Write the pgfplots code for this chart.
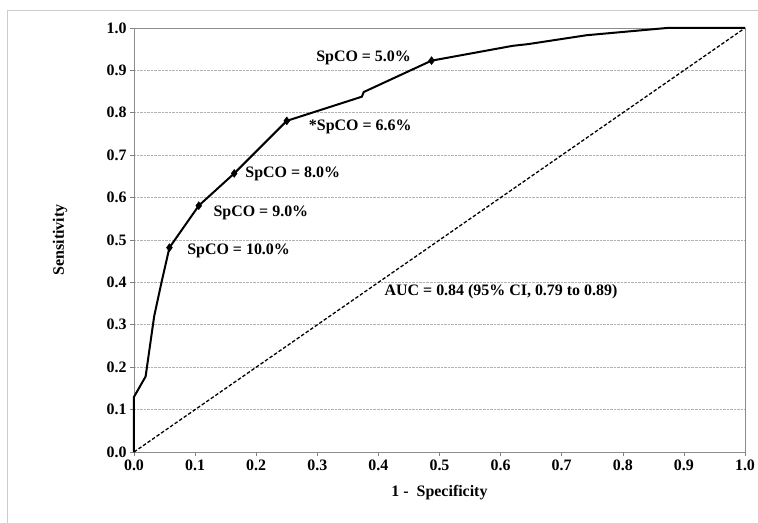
\documentclass[border=0pt]{standalone}
\usepackage{fontspec}
\setmainfont{Liberation Serif}
\usepackage{pgfplots}
\pgfplotsset{compat=1.18}
\begin{document}
\begin{tikzpicture}
\useasboundingbox (-134bp,-71bp) rectangle (624bp,452bp);
\draw[black!20, line width=0.8bp] (-127bp,-71bp) -- (-127bp,442bp) -- (624bp,442bp);
\begin{axis}[
  at={(0,0)}, anchor=south west,
  scale only axis, width=611bp, height=424bp,
  xmin=0, xmax=1, ymin=0, ymax=1,
  xtick={0,0.1,...,1.0}, ytick={0,0.1,...,1.0},
  /pgf/number format/.cd, fixed, fixed zerofill, precision=1, assume math mode=true, /pgfplots/.cd,
  tick label style={font=\bfseries\fontsize{16}{19}\selectfont},
  tick align=outside, major tick length=4bp,
  tick style={gray, line width=0.6bp},
  xtick pos=bottom, ytick pos=left,
  axis line style={gray!90, line width=0.8bp},
  ymajorgrids, grid style={densely dotted, gray!60, line width=0.6bp},
  clip=false,
  xlabel={1 -\ \ Specificity}, ylabel={Sensitivity},
  xlabel style={at={(axis description cs:0.5,0)}, anchor=center, yshift=-41bp, font=\bfseries\fontsize{16}{19}\selectfont},
  ylabel style={at={(axis description cs:0,0.5)}, anchor=center, yshift=74bp, font=\bfseries\fontsize{16}{19}\selectfont},
]
\addplot[black, dash pattern=on 3.5bp off 2bp, line width=1.3bp] coordinates {(0,0) (1,1)};
\addplot[black, line width=2bp, line join=round] coordinates {
(0,0) (0,0.13) (0.019,0.178) (0.033,0.32) (0.045,0.40) (0.058,0.482)
(0.106,0.581) (0.164,0.657) (0.250,0.781) (0.373,0.838) (0.376,0.849)
(0.487,0.923) (0.62,0.958) (0.645,0.962) (0.741,0.983) (0.872,1.0) (1.0,1.0)};
\addplot[only marks, mark=diamond*, mark size=4bp, black] coordinates {
(0.058,0.482) (0.106,0.581) (0.164,0.657) (0.250,0.781) (0.487,0.923)};
\begin{scope}[every node/.style={font=\bfseries\fontsize{16}{19}\selectfont, anchor=west, inner sep=0pt}]
\node at (axis cs:0.298,0.929) {SpCO = 5.0\%};
\node at (axis cs:0.286,0.766) {*SpCO = 6.6\%};
\node at (axis cs:0.182,0.656) {SpCO = 8.0\%};
\node at (axis cs:0.130,0.563) {SpCO = 9.0\%};
\node at (axis cs:0.087,0.475) {SpCO = 10.0\%};
\node at (axis cs:0.410,0.377) {AUC = 0.84 (95\% CI, 0.79 to 0.89)};
\end{scope}
\end{axis}
\end{tikzpicture}
\end{document}
